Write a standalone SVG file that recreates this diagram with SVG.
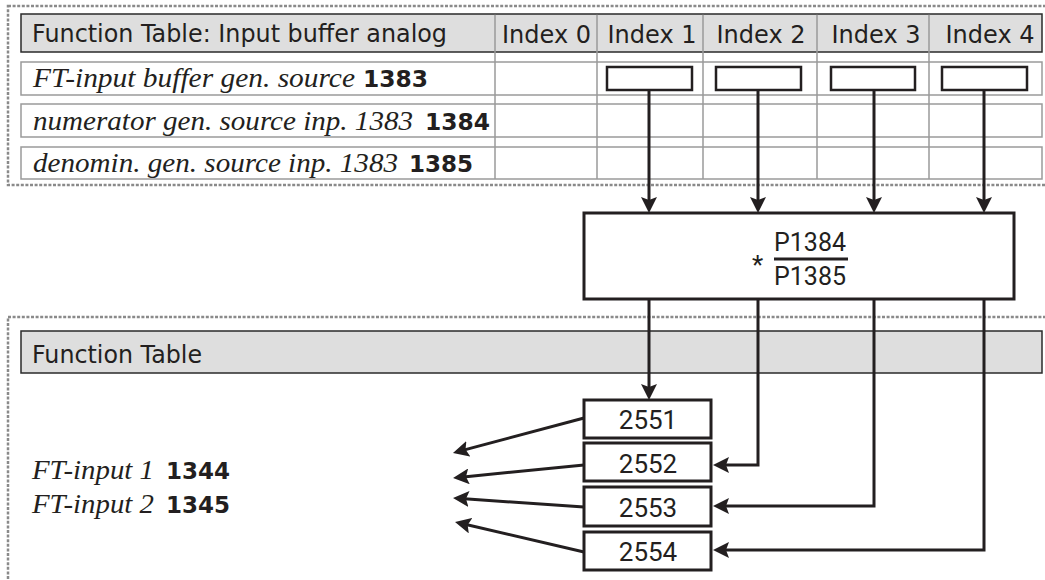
<svg xmlns="http://www.w3.org/2000/svg" width="1045" height="580" viewBox="0 0 1045 580">
<style>
.frame{fill:none;stroke:#8a8a8a;stroke-width:2.5;stroke-dasharray:3 1.6}
.hdr{fill:#dedede;stroke:#2a2a2a;stroke-width:1.5}
.row{fill:#fff;stroke:#9a9a9a;stroke-width:1.5}
.div{stroke:#9a9a9a;stroke-width:1.5}
.box{fill:#fff;stroke:#231f20;stroke-width:3}
.sbox{fill:#fff;stroke:#231f20;stroke-width:2.5}
.con{fill:none;stroke:#231f20;stroke-width:3}
.sans{font-family:"DejaVu Sans","Liberation Sans",sans-serif;font-size:24px;fill:#231f20}
.it{font-family:"Liberation Serif","Times New Roman",serif;font-style:italic;font-size:28px;fill:#231f20}
.bd{font-family:"DejaVu Sans","Liberation Sans",sans-serif;font-weight:bold;font-size:23px;fill:#231f20}
.rb{font-family:Roboto,"Liberation Sans",sans-serif;font-size:26px;fill:#231f20}
</style>
<defs>
<marker id="ah" markerUnits="userSpaceOnUse" markerWidth="18" markerHeight="16" refX="8" refY="8" orient="auto">
<path d="M0,0 L16,8 L0,16 L3,8 z" fill="#231f20"/>
</marker>
</defs>

<g id="frame-top">
<rect class="frame" x="8" y="6" width="1050" height="179"/>
</g>
<g id="table-input-buffer">
<rect class="hdr" x="21" y="14" width="1021" height="38"/>
<rect class="row" x="21" y="62" width="1021" height="33"/>
<rect class="row" x="21" y="104" width="1021" height="33"/>
<rect class="row" x="21" y="147" width="1021" height="32"/>
<line class="div" x1="495" y1="14.8" x2="495" y2="179"/>
<line class="div" x1="597" y1="14.8" x2="597" y2="179"/>
<line class="div" x1="703" y1="14.8" x2="703" y2="179"/>
<line class="div" x1="817" y1="14.8" x2="817" y2="179"/>
<line class="div" x1="929" y1="14.8" x2="929" y2="179"/>
<text class="sans" x="32" y="42" textLength="415" lengthAdjust="spacingAndGlyphs">Function Table: Input buffer analog</text>
<text class="sans" x="546.5" y="43" text-anchor="middle">Index 0</text>
<text class="sans" x="652" y="43" text-anchor="middle">Index 1</text>
<text class="sans" x="761" y="43" text-anchor="middle">Index 2</text>
<text class="sans" x="876" y="43" text-anchor="middle">Index 3</text>
<text class="sans" x="990" y="43" text-anchor="middle">Index 4</text>
<text class="it" x="33" y="87" textLength="322" lengthAdjust="spacingAndGlyphs">FT-input buffer gen. source</text>
<text class="bd" x="363" y="87" textLength="65" lengthAdjust="spacingAndGlyphs">1383</text>
<text class="it" x="33" y="130" textLength="380" lengthAdjust="spacingAndGlyphs">numerator gen. source inp. 1383</text>
<text class="bd" x="425" y="130" textLength="65" lengthAdjust="spacingAndGlyphs">1384</text>
<text class="it" x="33" y="172" textLength="365" lengthAdjust="spacingAndGlyphs">denomin. gen. source inp. 1383</text>
<text class="bd" x="409" y="172" textLength="64" lengthAdjust="spacingAndGlyphs">1385</text>
</g>

<g id="frame-bottom">
<rect class="frame" x="8" y="317" width="1050" height="300"/>
</g>
<g id="table-function">
<rect class="hdr" x="21" y="331" width="1021" height="42"/>
<text class="sans" x="32" y="363" textLength="170" lengthAdjust="spacingAndGlyphs">Function Table</text>
</g>
<g id="ft-inputs">
<text class="it" x="32" y="479" textLength="122" lengthAdjust="spacingAndGlyphs">FT-input 1</text>
<text class="bd" x="166" y="479" textLength="64" lengthAdjust="spacingAndGlyphs">1344</text>
<text class="it" x="32" y="513" textLength="122" lengthAdjust="spacingAndGlyphs">FT-input 2</text>
<text class="bd" x="166" y="513" textLength="64" lengthAdjust="spacingAndGlyphs">1345</text>
</g>

<g id="connectors">
<path class="con" d="M649,90 V205" marker-end="url(#ah)"/>
<path class="con" d="M758,90 V205" marker-end="url(#ah)"/>
<path class="con" d="M874,90 V205" marker-end="url(#ah)"/>
<path class="con" d="M984,90 V205" marker-end="url(#ah)"/>
<path class="con" d="M649,299 V392" marker-end="url(#ah)"/>
<path class="con" d="M758,299 V465 H721" marker-end="url(#ah)"/>
<path class="con" d="M874,299 V506 H721" marker-end="url(#ah)"/>
<path class="con" d="M984,299 V550 H721" marker-end="url(#ah)"/>
<path class="con" d="M584,418 L460.7,450.9" marker-end="url(#ah)"/>
<path class="con" d="M584,465 L461,477.2" marker-end="url(#ah)"/>
<path class="con" d="M584,507 L461,498.5" marker-end="url(#ah)"/>
<path class="con" d="M584,552 L462.8,523.8" marker-end="url(#ah)"/>
</g>

<g id="src-index1"><rect class="sbox" x="607" y="67" width="85" height="23"/></g>
<g id="src-index2"><rect class="sbox" x="716" y="67" width="85" height="23"/></g>
<g id="src-index3"><rect class="sbox" x="831" y="67" width="84" height="23"/></g>
<g id="src-index4"><rect class="sbox" x="942" y="67" width="85" height="23"/></g>

<g id="scaling">
<rect class="box" x="584" y="213" width="430" height="86"/>
<text class="rb" x="757.5" y="274" text-anchor="middle">*</text>
<text class="rb" x="774" y="251" textLength="72" lengthAdjust="spacingAndGlyphs">P1384</text>
<line x1="774" y1="259" x2="848" y2="259" stroke="#231f20" stroke-width="3"/>
<text class="rb" x="774" y="285" textLength="72" lengthAdjust="spacingAndGlyphs">P1385</text>
</g>

<g id="p2551"><rect class="box" x="584" y="400" width="127" height="38"/><text class="rb" x="648" y="429" text-anchor="middle">2551</text></g>
<g id="p2552"><rect class="box" x="584" y="443" width="127" height="38"/><text class="rb" x="648" y="473" text-anchor="middle">2552</text></g>
<g id="p2553"><rect class="box" x="584" y="487" width="127" height="39"/><text class="rb" x="648" y="517" text-anchor="middle">2553</text></g>
<g id="p2554"><rect class="box" x="584" y="532" width="127" height="38"/><text class="rb" x="648" y="561" text-anchor="middle">2554</text></g>
</svg>
